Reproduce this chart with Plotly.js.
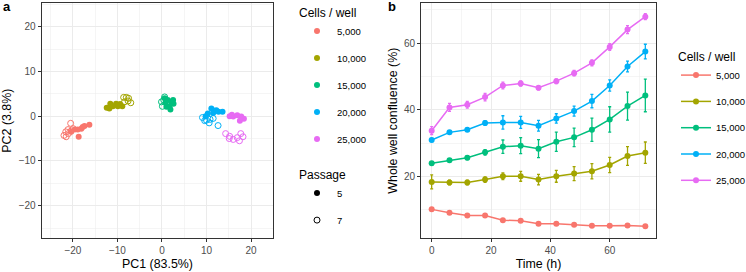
<!DOCTYPE html>
<html>
<head>
<meta charset="utf-8">
<script src="https://cdn.plot.ly/plotly-3.0.1.min.js"></script>
<style>html,body{margin:0;padding:0;background:#fff;}#chart{width:746px;height:272px;}</style>
</head>
<body>
<div id="chart"></div>
<script>
// ---------- Panel a: PCA scores ----------
const cellLevels = ['5,000', '10,000', '15,000', '20,000', '25,000'];
const cellColors = ['#F8766D', '#A3A500', '#00BF7D', '#00B0F6', '#E76BF3'];
const passageLevels = ['5', '7'];

const pc1_5000_p5 = [-16.3, -17.4, -18.1, -18.9, -19.6, -18.7, -20.4, -17.8];
const pc2_5000_p5 = [-1.9, -2.2, -2.8, -3.0, -3.0, -4.6, -3.5, -2.4];
const pc1_5000_p7 = [-20.5, -21.1, -21.6, -22.0, -21.5, -21.0, -20.4, -19.9];
const pc2_5000_p7 = [-1.6, -3.0, -3.5, -4.3, -4.6, -3.9, -3.3, -2.8];

const pc1_10000_p5 = [-12.4, -11.6, -11.8, -9.9, -9.4, -8.9, -10.3, -11.0];
const pc2_10000_p5 = [1.9, 2.8, 1.7, 2.2, 2.7, 2.2, 2.8, 2.2];
const pc1_10000_p7 = [-8.6, -8.0, -7.5, -7.0, -8.4, -7.6];
const pc2_10000_p7 = [4.2, 4.2, 4.0, 3.0, 3.2, 3.4];

const pc1_15000_p5 = [0.6, 1.3, 2.1, 2.6, 1.7, 1.9, 0.8, 2.5, 1.0];
const pc2_15000_p5 = [4.0, 3.6, 3.2, 2.8, 2.2, 1.5, 3.0, 3.6, 2.1];
const pc1_15000_p7 = [0.1, 0.6, -0.1, 0.4];
const pc2_15000_p7 = [2.2, 4.3, 3.2, 3.6];

const pc1_20000_p5 = [11.1, 11.8, 12.7, 13.6, 10.3, 9.8, 11.5, 12.2];
const pc2_20000_p5 = [1.7, 1.2, 1.0, 1.0, 0.6, 0.0, 0.7, 1.3];
const pc1_20000_p7 = [9.1, 10.0, 10.6, 11.5, 12.6, 9.6, 10.8];
const pc2_20000_p7 = [-0.3, -0.9, -1.5, -0.5, -2.1, -1.0, -0.7];

const pc1_25000_p5 = [15.2, 16.0, 16.9, 17.8, 18.4, 17.5, 15.7];
const pc2_25000_p5 = [0.0, -0.1, 0.2, -0.1, -0.6, -1.0, 0.3];
const pc1_25000_p7 = [14.3, 15.2, 16.0, 16.9, 17.7, 18.2, 17.4, 15.1];
const pc2_25000_p7 = [-3.9, -4.5, -5.2, -4.8, -3.9, -4.6, -5.5, -5.0];

// ---------- Panel b: confluence over time ----------
const timeH = [0, 6, 12, 18, 24, 30, 36, 42, 48, 54, 60, 66, 72];
const conf5000  = [10.05, 9.0, 8.2, 8.2, 6.8, 6.6, 5.7, 5.7, 5.4, 5.1, 5.1, 5.2, 5.0];
const err5000   = [0.3, 0.3, 0.3, 0.3, 0.3, 0.3, 0.3, 0.3, 0.3, 0.3, 0.3, 0.3, 0.3];
const conf10000 = [18.3, 18.1, 18.1, 19.0, 20.0, 20.0, 19.0, 20.0, 20.8, 21.5, 23.4, 26.1, 27.1];
const err10000  = [2.1, 0.7, 0.7, 0.8, 1.0, 1.5, 1.6, 1.8, 2.1, 2.3, 2.3, 2.8, 3.2];
const conf15000 = [23.9, 24.8, 25.6, 27.2, 28.9, 29.2, 28.3, 30.4, 31.7, 34.0, 37.1, 41.1, 44.3];
const err15000  = [0.5, 0.5, 0.6, 0.8, 2.0, 2.4, 2.7, 2.9, 2.8, 3.5, 3.8, 4.2, 4.9];
const conf20000 = [30.9, 33.2, 34.0, 36.0, 36.2, 36.2, 35.2, 37.4, 39.6, 42.6, 47.3, 53.0, 57.5];
const err20000  = [0.5, 0.5, 0.5, 0.7, 2.0, 1.8, 1.6, 1.4, 1.5, 2.0, 1.7, 1.6, 2.2];
const conf25000 = [33.7, 40.7, 41.5, 43.8, 47.3, 47.9, 46.6, 48.6, 51.0, 54.1, 58.9, 64.1, 68.0];
const err25000  = [1.2, 1.2, 1.0, 1.1, 1.0, 0.8, 0.6, 0.7, 0.8, 0.9, 1.0, 1.2, 0.9];

const pcaP5 = [[pc1_5000_p5, pc2_5000_p5], [pc1_10000_p5, pc2_10000_p5], [pc1_15000_p5, pc2_15000_p5], [pc1_20000_p5, pc2_20000_p5], [pc1_25000_p5, pc2_25000_p5]];
const pcaP7 = [[pc1_5000_p7, pc2_5000_p7], [pc1_10000_p7, pc2_10000_p7], [pc1_15000_p7, pc2_15000_p7], [pc1_20000_p7, pc2_20000_p7], [pc1_25000_p7, pc2_25000_p7]];
const confSeries = [conf5000, conf10000, conf15000, conf20000, conf25000];
const errSeries = [err5000, err10000, err15000, err20000, err25000];

const FONT = 'Liberation Sans, Arial, sans-serif';
const traces = [];

// panel a: passage 7 (open) first, then passage 5 (filled)
cellLevels.forEach((lvl, i) => {
  traces.push({
    type: 'scatter', mode: 'markers', x: pcaP7[i][0], y: pcaP7[i][1],
    xaxis: 'x', yaxis: 'y', showlegend: false, hoverinfo: 'skip',
    marker: {symbol: 'circle-open', size: 6, color: cellColors[i], line: {width: 1, color: cellColors[i]}}
  });
});
cellLevels.forEach((lvl, i) => {
  traces.push({
    type: 'scatter', mode: 'markers', x: pcaP5[i][0], y: pcaP5[i][1],
    xaxis: 'x', yaxis: 'y', name: lvl, legend: 'legend', legendgroup: 'a' + i,
    marker: {symbol: 'circle', size: 6, color: cellColors[i]}
  });
});
// passage legend keys
passageLevels.forEach((p, i) => {
  traces.push({
    type: 'scatter', mode: 'markers', x: [null], y: [null],
    xaxis: 'x', yaxis: 'y', name: p, legend: 'legend2', legendgroup: 'p' + i,
    marker: i === 0 ? {symbol: 'circle', size: 6, color: '#000'} :
                      {symbol: 'circle-open', size: 6, color: '#000', line: {width: 1, color: '#000'}}
  });
});
// panel b
cellLevels.forEach((lvl, i) => {
  traces.push({
    type: 'scatter', mode: 'lines+markers', x: timeH, y: confSeries[i],
    xaxis: 'x2', yaxis: 'y2', name: lvl, legend: 'legend3', legendgroup: 'b' + i,
    line: {color: cellColors[i], width: 1.5},
    marker: {symbol: 'circle', size: 6, color: cellColors[i]},
    error_y: {type: 'data', array: errSeries[i], visible: true, color: cellColors[i], thickness: 1.3, width: 1.5}
  });
});

const gridC = '#EBEBEB';
function axisBase(extra) {
  return Object.assign({
    showline: true, mirror: true, linecolor: '#333333', linewidth: 1,
    ticks: 'outside', ticklen: 3, tickcolor: '#333333', tickwidth: 1,
    showgrid: true, gridcolor: gridC, gridwidth: 1, zeroline: false,
    tickfont: {family: FONT, size: 10, color: '#4D4D4D'},
    fixedrange: true, automargin: false
  }, extra);
}

const W = 746, H = 272;
const TITLE_FONT = {family: FONT, size: 12.4, color: '#000'};
const layout = {
  width: W, height: H,
  margin: {l: 0, r: 0, t: 0, b: 0, autoexpand: false},
  paper_bgcolor: '#fff', plot_bgcolor: '#fff',
  font: {family: FONT, size: 10, color: '#000'},
  xaxis: axisBase({
    domain: [41.7 / W, 273.3 / W], range: [-27, 25], anchor: 'y',
    tickmode: 'array', tickvals: [-20, -10, 0, 10, 20],
    minor: {tickvals: [-25, -15, -5, 5, 15, 25], showgrid: true, gridcolor: gridC, gridwidth: 0.5, ticks: ''},
    title: {text: 'PC1 (83.5%)', font: TITLE_FONT, standoff: 4}
  }),
  yaxis: axisBase({
    domain: [(H - 238.3) / H, (H - 3) / H], range: [-27.3, 25.3], anchor: 'x',
    tickmode: 'array', tickvals: [-20, -10, 0, 10, 20],
    minor: {tickvals: [-25, -15, -5, 5, 15, 25], showgrid: true, gridcolor: gridC, gridwidth: 0.5, ticks: ''},
    title: {text: 'PC2 (3.8%)', font: TITLE_FONT, standoff: 4}
  }),
  xaxis2: axisBase({
    domain: [421 / W, 656 / W], range: [-3.6, 75.6], anchor: 'y2',
    tickmode: 'array', tickvals: [0, 20, 40, 60],
    minor: {tickvals: [10, 30, 50, 70], showgrid: true, gridcolor: gridC, gridwidth: 0.5, ticks: ''},
    title: {text: 'Time (h)', font: TITLE_FONT, standoff: 4}
  }),
  yaxis2: axisBase({
    domain: [(H - 238.3) / H, (H - 3) / H], range: [1.35, 72.1], anchor: 'x2',
    tickmode: 'array', tickvals: [20, 40, 60],
    minor: {tickvals: [10, 30, 50, 70], showgrid: true, gridcolor: gridC, gridwidth: 0.5, ticks: ''},
    title: {text: 'Whole well confluence (%)', font: TITLE_FONT, standoff: 3}
  }),
  legend: {
    x: 297 / W, xanchor: 'left', y: 1 - 1 / H, yanchor: 'top',
    title: {text: 'Cells / well', font: {family: FONT, size: 12, color: '#000'}},
    font: {family: FONT, size: 9.5, color: '#000'},
    bgcolor: 'rgba(0,0,0,0)', tracegroupgap: 8, itemclick: false, itemdoubleclick: false
  },
  legend2: {
    x: 297 / W, xanchor: 'left', y: 1 - 163 / H, yanchor: 'top',
    title: {text: 'Passage', font: {family: FONT, size: 12, color: '#000'}},
    font: {family: FONT, size: 9.5, color: '#000'},
    bgcolor: 'rgba(0,0,0,0)', tracegroupgap: 8, itemclick: false, itemdoubleclick: false
  },
  legend3: {
    x: 676 / W, xanchor: 'left', y: 1 - 45 / H, yanchor: 'top',
    title: {text: 'Cells / well', font: {family: FONT, size: 12, color: '#000'}},
    font: {family: FONT, size: 9.5, color: '#000'},
    bgcolor: 'rgba(0,0,0,0)', tracegroupgap: 7.3, itemclick: false, itemdoubleclick: false
  },
  annotations: [
    {text: '<b>a</b>', xref: 'paper', yref: 'paper', x: 1 / W, y: 1 - 6 / H, xanchor: 'left', yanchor: 'middle', showarrow: false, font: {family: FONT, size: 13, color: '#000'}},
    {text: '<b>b</b>', xref: 'paper', yref: 'paper', x: 386 / W, y: 1 - 6 / H, xanchor: 'left', yanchor: 'middle', showarrow: false, font: {family: FONT, size: 13, color: '#000'}}
  ]
};

Plotly.newPlot('chart', traces, layout, {displayModeBar: false, staticPlot: true});
</script>
</body>
</html>
